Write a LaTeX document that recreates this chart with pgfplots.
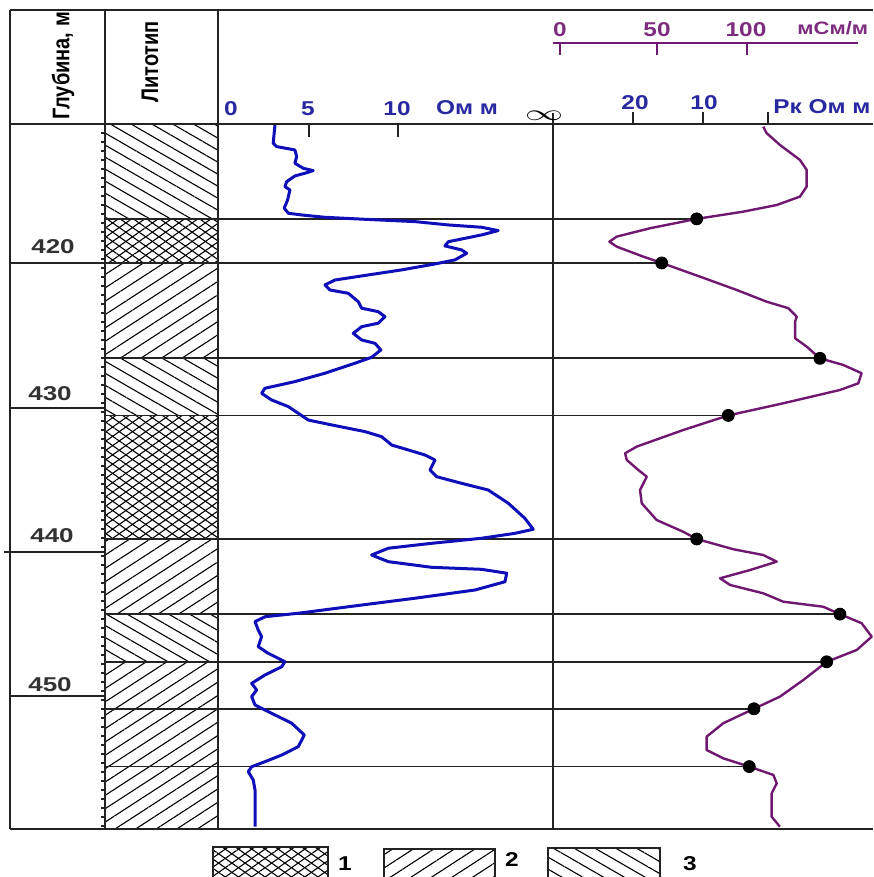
\documentclass[border=0pt]{standalone}
\usepackage{fontspec}
\setmainfont{Liberation Sans}
\usepackage{graphicx}
\usepackage{pgfplots}
\pgfplotsset{compat=1.18}
\usetikzlibrary{patterns.meta}
\definecolor{curveblue}{RGB}{15,15,185}
\definecolor{labblue}{RGB}{40,40,160}
\definecolor{curvepurple}{RGB}{112,24,112}
\definecolor{labpurple}{RGB}{125,45,125}
\definecolor{framegray}{RGB}{35,35,35}
\definecolor{deptxt}{RGB}{50,50,50}
\tikzset{
  lith2/.style={pattern={Lines[angle=33,distance=5.6pt,line width=0.55pt]}},
  lith3/.style={pattern={Lines[angle=-30,distance=5.2pt,line width=0.55pt]}},
  lith1a/.style={pattern={Lines[angle=35,distance=3.8pt,line width=0.55pt]}},
  lith1b/.style={pattern={Lines[angle=-35,distance=3.8pt,line width=0.55pt]}},
}
\pgfplotsset{trackaxis/.style={scale only axis, hide axis, anchor=north west,
  height=352.25pt, ymin=410.42, ymax=459.17, y dir=reverse}}
\newcommand\hf{\fontsize{10}{12}\selectfont\bfseries}
\newcommand\sx[1]{\scalebox{1.22}[1]{#1}}
\begin{document}
\begin{tikzpicture}
\useasboundingbox (0,0) rectangle (436.5pt,-438.5pt);
% ---------- lithology column ----------
\begin{axis}[trackaxis, at={(52.5pt,-62.25pt)}, width=56.5pt, xmin=0, xmax=1]
\addplot[draw=none, lith3] coordinates {(0,410.42) (1,410.42) (1,416.95) (0,416.95)} -- cycle;
\addplot[draw=none, lith1a] coordinates {(0,416.95) (1,416.95) (1,420.0) (0,420.0)} -- cycle;
\addplot[draw=none, lith1b] coordinates {(0,416.95) (1,416.95) (1,420.0) (0,420.0)} -- cycle;
\addplot[draw=none, lith2] coordinates {(0,420.0) (1,420.0) (1,426.6) (0,426.6)} -- cycle;
\addplot[draw=none, lith3] coordinates {(0,426.6) (1,426.6) (1,430.55) (0,430.55)} -- cycle;
\addplot[draw=none, lith1a] coordinates {(0,430.55) (1,430.55) (1,439.1) (0,439.1)} -- cycle;
\addplot[draw=none, lith1b] coordinates {(0,430.55) (1,430.55) (1,439.1) (0,439.1)} -- cycle;
\addplot[draw=none, lith2] coordinates {(0,439.1) (1,439.1) (1,444.3) (0,444.3)} -- cycle;
\addplot[draw=none, lith3] coordinates {(0,444.3) (1,444.3) (1,447.6) (0,447.6)} -- cycle;
\addplot[draw=none, lith2] coordinates {(0,447.6) (1,447.6) (1,450.85) (0,450.85)} -- cycle;
\addplot[draw=none, lith2] coordinates {(0,450.85) (1,450.85) (1,454.85) (0,454.85)} -- cycle;
\addplot[draw=none, lith2] coordinates {(0,454.85) (1,454.85) (1,459.17) (0,459.17)} -- cycle;
\pgfplotsinvokeforeach{416.95,420.0,426.6,430.55,439.1,444.3,447.6,450.85,454.85}{
  \addplot[framegray, line width=0.9pt] coordinates {(0,#1) (1,#1)};
}
\end{axis}
% ---------- resistivity track ----------
\begin{axis}[trackaxis, at={(109pt,-62.25pt)}, width=167.5pt, xmin=-0.11, xmax=18.71]
\pgfplotsinvokeforeach{416.95,420.0,426.6,430.55,439.1,444.3,447.6,450.85,454.85}{
  \addplot[framegray, line width=0.9pt] coordinates {(-0.11,#1) (18.71,#1)};
}
\addplot[curveblue, line width=1.5pt, line join=round] coordinates {
(3.09,410.45) (2.99,411.72) (3.19,411.95) (4.21,412.18) (4.31,412.64) (4.21,413.10) (4.68,413.45) (5.24,413.61) (4.78,413.79) (4.21,413.98) (3.75,414.37) (3.65,414.72) (3.93,414.95) (3.80,415.64) (3.61,416.21) (3.84,416.56) (4.59,416.68) (5.90,416.84) (8.15,416.98) (10.96,417.14) (12.83,417.37) (14.70,417.53) (15.63,417.76) (14.70,418.06) (12.83,418.53) (12.64,418.82) (13.58,419.10) (13.86,419.33) (13.20,419.79) (12.08,420.07) (10.21,420.48) (8.33,420.83) (6.46,421.18) (5.90,421.52) (6.18,421.87) (7.21,422.10) (7.77,422.68) (7.96,423.13) (8.89,423.37) (9.27,423.72) (8.89,424.17) (7.96,424.41) (7.49,424.87) (7.96,425.33) (8.71,425.56) (9.04,426.02) (8.52,426.53) (7.58,426.94) (5.90,427.63) (4.21,428.21) (2.53,428.67) (2.34,429.02) (2.90,429.48) (3.84,429.94) (4.40,430.40) (4.96,430.87) (6.28,431.21) (8.15,431.67) (9.08,432.02) (9.65,432.60) (10.58,432.94) (11.52,433.29) (12.08,433.63) (11.80,434.33) (12.17,434.79) (13.58,435.25) (15.07,435.71) (16.20,436.63) (17.13,437.67) (17.60,438.43) (16.57,438.71) (14.70,439.05) (11.89,439.40) (9.46,439.74) (8.52,440.21) (9.46,440.67) (11.89,441.06) (14.70,441.20) (16.11,441.47) (16.01,442.06) (14.33,442.63) (10.96,443.20) (7.21,443.79) (4.40,444.24) (2.53,444.48) (1.97,444.82) (2.15,445.40) (2.34,445.86) (2.15,446.55) (2.71,447.01) (3.65,447.59) (3.47,447.94) (2.53,448.51) (1.78,449.09) (2.06,449.55) (1.78,450.01) (1.97,450.59) (2.90,451.16) (4.03,451.85) (4.74,452.66) (4.40,453.47) (3.47,454.05) (2.53,454.51) (1.78,454.86) (1.59,455.20) (1.87,455.78) (1.97,456.47) (1.97,459.01)};
\end{axis}
% ---------- conductivity track ----------
\begin{axis}[trackaxis, at={(276.5pt,-62.25pt)}, width=160pt, xmin=-3.74, xmax=167.38]
\addplot[framegray, line width=0.9pt] coordinates {(-3.74,416.95) (73.1,416.95)};
\addplot[framegray, line width=0.9pt] coordinates {(-3.74,420.0) (54.4,420.0)};
\addplot[framegray, line width=0.9pt] coordinates {(-3.74,426.6) (139.0,426.6)};
\addplot[framegray, line width=0.9pt] coordinates {(-3.74,430.55) (90.0,430.55)};
\addplot[framegray, line width=0.9pt] coordinates {(-3.74,439.1) (73.1,439.1)};
\addplot[framegray, line width=0.9pt] coordinates {(-3.74,444.3) (149.7,444.3)};
\addplot[framegray, line width=0.9pt] coordinates {(-3.74,447.6) (142.6,447.6)};
\addplot[framegray, line width=0.9pt] coordinates {(-3.74,450.85) (103.7,450.85)};
\addplot[framegray, line width=0.9pt] coordinates {(-3.74,454.85) (101.2,454.85)};
\addplot[curvepurple, line width=1.2pt, line join=round] coordinates {
(108.7,410.57) (110.5,411.02) (117.6,411.83) (128.3,412.87) (131.9,413.56) (131.9,414.72) (128.3,415.41) (115.9,415.99) (98.0,416.45) (73.1,416.95) (48.1,417.60) (30.3,418.18) (26.4,418.53) (30.3,418.87) (44.5,419.56) (54.4,420.0) (74.9,420.95) (94.5,421.87) (110.5,422.68) (122.1,423.13) (126.6,423.72) (125.7,424.06) (125.7,425.21) (131.9,425.79) (139.0,426.6) (151.5,427.06) (161.3,427.63) (159.5,428.33) (149.7,428.79) (119.4,429.71) (90.0,430.55) (65.9,431.56) (41.0,432.71) (34.8,433.17) (35.7,433.63) (41.9,434.33) (46.4,434.79) (42.8,435.71) (43.7,436.63) (51.7,437.79) (65.9,438.60) (73.1,439.1) (92.7,439.81) (108.7,440.21) (115.9,440.67) (101.6,441.25) (85.6,441.82) (90.9,442.28) (108.7,442.86) (119.4,443.44) (140.8,443.79) (149.7,444.3) (161.3,444.93) (166.7,445.86) (158.7,446.78) (142.6,447.6) (130.1,448.86) (117.6,450.01) (103.7,450.85) (87.3,451.85) (78.4,452.78) (78.4,453.70) (87.3,454.28) (101.2,454.85) (114.1,455.43) (115.9,456.01) (113.2,456.70) (113.2,458.32) (117.6,459.01)};
\addplot[only marks, mark=*, mark size=3pt, black] coordinates {
(73.1,416.95) (54.4,420.0) (139.0,426.6) (90.0,430.55) (73.1,439.1) (149.7,444.3) (142.6,447.6) (103.7,450.85) (101.2,454.85)};
\end{axis}
% ---------- frame, headers, legend (pixel units) ----------
\begin{scope}[x=0.5pt,y=-0.5pt]
\begin{scope}[framegray, line width=1pt]
\draw (10,10) -- (873,10);
\draw (10,124.5) -- (873,124.5);
\draw (10,829) -- (873,829);
\draw (10,10) -- (10,829);
\draw (105,10) -- (105,829);
\draw (218,10) -- (218,829);
\draw (553,113) -- (553,829);
\end{scope}
\begin{scope}[framegray, line width=0.8pt]
\draw (10,263) -- (105,263);
\draw (10,408) -- (105,408);
\draw (4,552) -- (105,552);
\draw (10,696) -- (105,696);
\foreach \yy in {133,142,...,829} \draw (101,\yy) -- (105,\yy);
\draw (309,124.5) -- (309,137);
\draw (398,124.5) -- (398,137);
\draw (633,112) -- (633,124.5);
\draw (703,112) -- (703,124.5);
\draw (768,112) -- (768,124.5);
\end{scope}
\node[deptxt] at (53,247) {\hf\scalebox{1.3}[1]{420}};
\node[deptxt] at (50,394) {\hf\scalebox{1.3}[1]{430}};
\node[deptxt] at (52,536) {\hf\scalebox{1.3}[1]{440}};
\node[deptxt] at (50,685) {\hf\scalebox{1.3}[1]{450}};
\node[rotate=90] at (63,66) {\hf\scalebox{1}[1.2]{Глубина, м}};
\node[rotate=90] at (150,62) {\hf\scalebox{1}[1.2]{Литотип}};
% blue scale
\node[labblue] at (231,109) {\hf\sx{0}};
\node[labblue] at (308,109) {\hf\sx{5}};
\node[labblue] at (397,109) {\hf\sx{10}};
\node[labblue] at (467,108) {\hf\sx{Ом м}};
\node at (544,116) {\scalebox{1.9}[1.1]{$\infty$}};
% right lower scale
\node[labblue] at (635,103) {\hf\sx{20}};
\node[labblue] at (704,103) {\hf\sx{10}};
\node[labblue, anchor=west, inner sep=0pt] at (773,107) {\hf\sx{Рк Ом м}};
% purple scale
\draw[curvepurple, line width=0.8pt] (553,43) -- (858,43);
\foreach \xx in {560,657,747} \draw[curvepurple, line width=0.8pt] (\xx,43) -- (\xx,55);
\node[labpurple] at (560,30) {\hf\sx{0}};
\node[labpurple] at (657,30) {\hf\sx{50}};
\node[labpurple] at (746,30) {\hf\sx{100}};
\node[labpurple, anchor=west, inner sep=0pt] at (797,28) {\fontsize{9}{11}\selectfont\bfseries\sx{мСм/м}};
% legend
\draw[framegray, line width=0.8pt, lith1a] (213,847) rectangle (328,880);
\draw[framegray, line width=0.8pt, lith1b] (213,847) rectangle (328,880);
\draw[framegray, line width=0.8pt, lith2] (384,849) rectangle (495,880);
\draw[framegray, line width=0.8pt, lith3] (548,848) rectangle (660,880);
\node at (345,864) {\hf\sx{1}};
\node at (512,860) {\hf\sx{2}};
\node at (690,864) {\hf\sx{3}};
\end{scope}
\end{tikzpicture}
\end{document}
